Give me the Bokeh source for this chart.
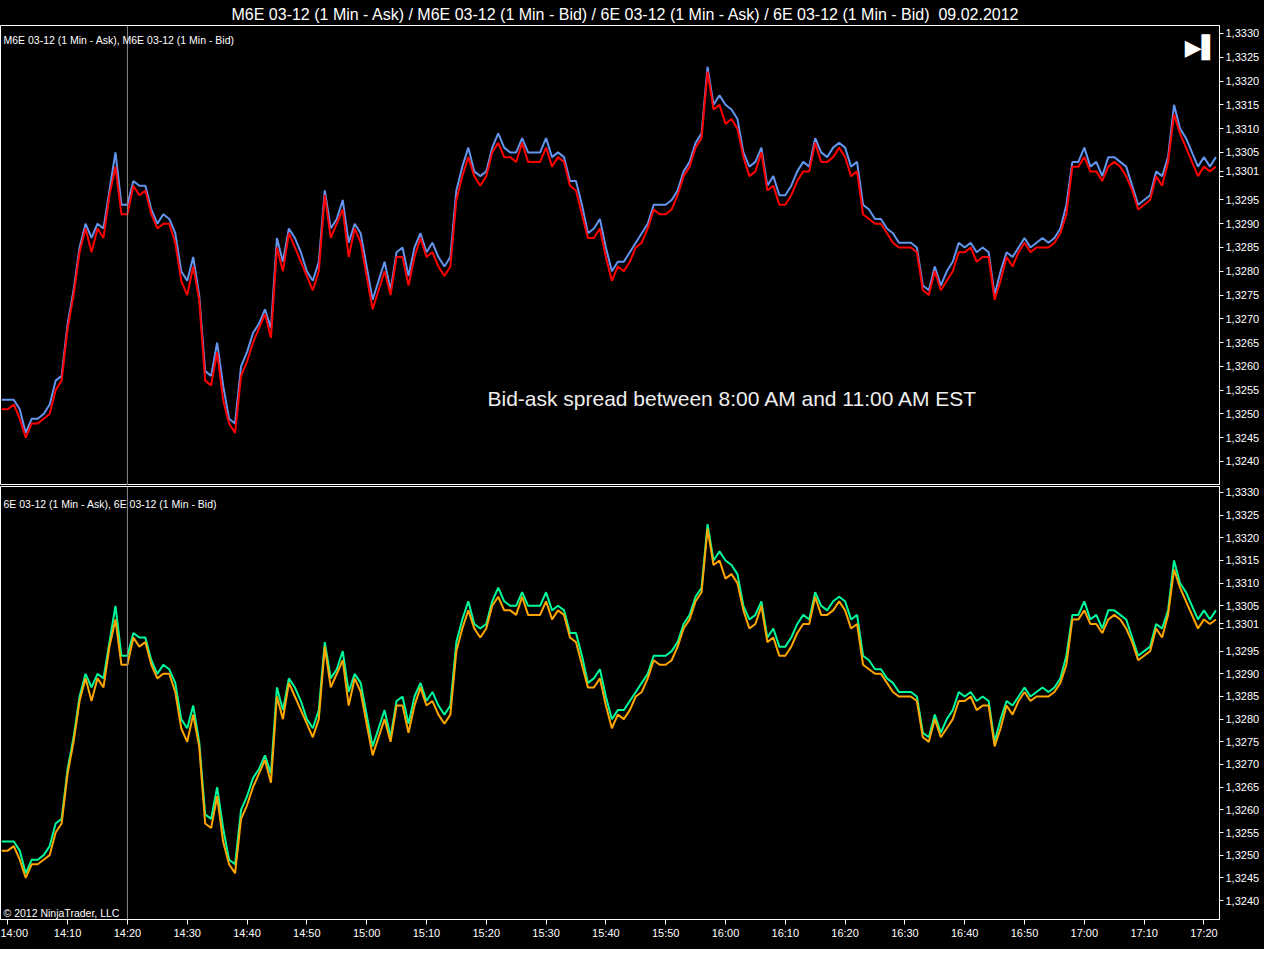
import pandas as pd
from bokeh.plotting import figure
from bokeh.layouts import column
from bokeh.models import (ColumnDataSource, Range1d, FixedTicker, CustomJSTickFormatter,
                          DatetimeTickFormatter, Span, Label)
from bokeh.embed import file_html
from bokeh.resources import INLINE

# ---------------- data ----------------
session_date = "2012-02-09"
first_minute = "13:59"
cursor_time = "14:20"
title_text = ("M6E 03-12 (1 Min - Ask) / M6E 03-12 (1 Min - Bid) / "
              "6E 03-12 (1 Min - Ask) / 6E 03-12 (1 Min - Bid)\u00a0 09.02.2012")
top_legend = "M6E 03-12 (1 Min - Ask), M6E 03-12 (1 Min - Bid)"
bottom_legend = "6E 03-12 (1 Min - Ask), 6E 03-12 (1 Min - Bid)"
note_text = "Bid-ask spread between 8:00 AM and 11:00 AM EST"
copyright_text = "\u00a9 2012 NinjaTrader, LLC"
last_price_text = "1,3301"
last_price = 1.3301
covered_tick = 1.3300   # axis label hidden behind the last-price tag

ask_m6e = [
    1.3253, 1.3253, 1.3253, 1.3251, 1.3246, 1.3249, 1.3249, 1.3250, 1.3252, 1.3257,
    1.3258, 1.3269, 1.3276, 1.3285, 1.3290, 1.3287, 1.3290, 1.3289, 1.3297, 1.3305,
    1.3294, 1.3294, 1.3299, 1.3298, 1.3298, 1.3293, 1.3290, 1.3292, 1.3291, 1.3288,
    1.3280, 1.3278, 1.3283, 1.3275, 1.3259, 1.3258, 1.3265, 1.3256, 1.3249, 1.3248,
    1.3260, 1.3263, 1.3267, 1.3269, 1.3272, 1.3268, 1.3287, 1.3282, 1.3289, 1.3287,
    1.3284, 1.3280, 1.3278, 1.3282, 1.3297, 1.3289, 1.3291, 1.3295, 1.3286, 1.3290,
    1.3288, 1.3281, 1.3274, 1.3278, 1.3282, 1.3276, 1.3284, 1.3285, 1.3279, 1.3285,
    1.3288, 1.3284, 1.3286, 1.3283, 1.3281, 1.3283, 1.3297, 1.3302, 1.3306, 1.3301,
    1.3300, 1.3301, 1.3306, 1.3309, 1.3306, 1.3305, 1.3305, 1.3308, 1.3305, 1.3305,
    1.3305, 1.3308, 1.3304, 1.3305, 1.3304, 1.3299, 1.3299, 1.3294, 1.3288, 1.3289,
    1.3291, 1.3285, 1.3280, 1.3282, 1.3282, 1.3284, 1.3286, 1.3288, 1.3290, 1.3294,
    1.3294, 1.3294, 1.3295, 1.3297, 1.3301, 1.3303, 1.3307, 1.3309, 1.3323, 1.3315,
    1.3317, 1.3315, 1.3314, 1.3312, 1.3305, 1.3302, 1.3303, 1.3306, 1.3298, 1.3300,
    1.3296, 1.3296, 1.3298, 1.3301, 1.3303, 1.3302, 1.3308, 1.3305, 1.3304, 1.3306,
    1.3307, 1.3306, 1.3302, 1.3303, 1.3294, 1.3293, 1.3291, 1.3291, 1.3289, 1.3288,
    1.3286, 1.3286, 1.3286, 1.3285, 1.3277, 1.3276, 1.3281, 1.3277, 1.3280, 1.3282,
    1.3286, 1.3285, 1.3286, 1.3284, 1.3285, 1.3284, 1.3275, 1.3280, 1.3284, 1.3283,
    1.3285, 1.3287, 1.3285, 1.3286, 1.3287, 1.3286, 1.3287, 1.3289, 1.3294, 1.3303,
    1.3303, 1.3306, 1.3302, 1.3303, 1.3300, 1.3304, 1.3304, 1.3303, 1.3302, 1.3298,
    1.3294, 1.3295, 1.3296, 1.3301, 1.3300, 1.3304, 1.3315, 1.3310, 1.3308, 1.3305,
    1.3302, 1.3304, 1.3302, 1.3304,
]

bid_m6e = [
    1.3251, 1.3251, 1.3252, 1.3249, 1.3245, 1.3248, 1.3248, 1.3249, 1.3250, 1.3255,
    1.3257, 1.3268, 1.3275, 1.3284, 1.3289, 1.3284, 1.3289, 1.3287, 1.3296, 1.3302,
    1.3292, 1.3292, 1.3298, 1.3296, 1.3297, 1.3292, 1.3289, 1.3290, 1.3290, 1.3286,
    1.3278, 1.3275, 1.3281, 1.3274, 1.3257, 1.3256, 1.3263, 1.3253, 1.3248, 1.3246,
    1.3258, 1.3261, 1.3265, 1.3268, 1.3271, 1.3266, 1.3285, 1.3280, 1.3288, 1.3285,
    1.3282, 1.3279, 1.3276, 1.3280, 1.3296, 1.3287, 1.3290, 1.3293, 1.3283, 1.3289,
    1.3286, 1.3279, 1.3272, 1.3276, 1.3280, 1.3275, 1.3283, 1.3283, 1.3277, 1.3283,
    1.3287, 1.3283, 1.3284, 1.3281, 1.3279, 1.3281, 1.3295, 1.3300, 1.3304, 1.3300,
    1.3298, 1.3300, 1.3305, 1.3307, 1.3304, 1.3304, 1.3303, 1.3307, 1.3303, 1.3303,
    1.3303, 1.3306, 1.3302, 1.3304, 1.3303, 1.3298, 1.3297, 1.3292, 1.3287, 1.3287,
    1.3289, 1.3283, 1.3278, 1.3281, 1.3280, 1.3282, 1.3285, 1.3286, 1.3289, 1.3293,
    1.3292, 1.3292, 1.3293, 1.3296, 1.3300, 1.3302, 1.3306, 1.3308, 1.3322, 1.3314,
    1.3315, 1.3311, 1.3312, 1.3310, 1.3304, 1.3300, 1.3301, 1.3305, 1.3297, 1.3298,
    1.3294, 1.3294, 1.3296, 1.3299, 1.3301, 1.3301, 1.3307, 1.3303, 1.3303, 1.3304,
    1.3306, 1.3304, 1.3300, 1.3301, 1.3292, 1.3291, 1.3290, 1.3290, 1.3288, 1.3286,
    1.3285, 1.3285, 1.3285, 1.3284, 1.3276, 1.3275, 1.3280, 1.3276, 1.3278, 1.3280,
    1.3284, 1.3284, 1.3285, 1.3282, 1.3283, 1.3283, 1.3274, 1.3278, 1.3283, 1.3281,
    1.3284, 1.3286, 1.3284, 1.3285, 1.3285, 1.3285, 1.3286, 1.3288, 1.3292, 1.3302,
    1.3302, 1.3304, 1.3301, 1.3301, 1.3299, 1.3302, 1.3303, 1.3302, 1.3300, 1.3297,
    1.3293, 1.3294, 1.3295, 1.3300, 1.3298, 1.3303, 1.3313, 1.3309, 1.3306, 1.3303,
    1.3300, 1.3302, 1.3301, 1.3302,
]

# the lower (6E) panel traces the same quotes as the upper (M6E) panel
ask_6e = list(ask_m6e)
bid_6e = list(bid_m6e)

y_tick_values = [1.3240, 1.3245, 1.3250, 1.3255, 1.3260, 1.3265, 1.3270, 1.3275,
                 1.3280, 1.3285, 1.3290, 1.3295, 1.3300, 1.3305, 1.3310, 1.3315,
                 1.3320, 1.3325, 1.3330]
x_tick_labels = ["14:00", "14:10", "14:20", "14:30", "14:40", "14:50", "15:00",
                 "15:10", "15:20", "15:30", "15:40", "15:50", "16:00", "16:10",
                 "16:20", "16:30", "16:40", "16:50", "17:00", "17:10", "17:20"]

# ---------------- styling / layout ----------------
FONT = "Liberation Sans"
W = 1264
RIGHT = 45


def ms(ts):
    return ts.value / 1e6


t0 = pd.Timestamp(f"{session_date} {first_minute}")
times = pd.date_range(t0, periods=len(bid_m6e), freq="min")
x_start = ms(t0 - pd.Timedelta(minutes=0.22))
x_end = ms(t0 + pd.Timedelta(minutes=203.6))
xr = Range1d(start=x_start, end=x_end)
cursor_ms = ms(pd.Timestamp(f"{session_date} {cursor_time}"))
x_ticks = [ms(pd.Timestamp(f"{session_date} {lab}")) for lab in x_tick_labels]

src_top = ColumnDataSource(dict(t=times, ask=ask_m6e, bid=bid_m6e))
src_bot = ColumnDataSource(dict(t=times, ask=ask_6e, bid=bid_6e))

price_fmt = CustomJSTickFormatter(
    args=dict(last=last_price, lab=last_price_text, covered=covered_tick),
    code="""
if (Math.abs(tick - last) < 1e-7) return lab;
if (Math.abs(tick - covered) < 1e-7) return "";
return tick.toFixed(4).replace('.', ',');
""")


def style_common(p):
    p.xgrid.visible = False
    p.ygrid.visible = False
    p.yaxis.ticker = FixedTicker(ticks=y_tick_values + [last_price])
    p.yaxis.formatter = price_fmt
    p.yaxis.major_tick_in = 0
    p.yaxis.major_tick_out = 4
    p.yaxis.minor_tick_line_color = None
    p.yaxis.axis_line_color = "white"
    p.yaxis.major_tick_line_color = "white"
    p.yaxis.major_label_text_color = "white"
    p.yaxis.major_label_text_font = FONT
    p.yaxis.major_label_text_font_size = "11px"
    p.yaxis.major_label_standoff = 2
    p.add_layout(Span(location=cursor_ms, dimension="height",
                      line_color="#8a8a8a", line_width=1))


yr1 = Range1d(start=1.323495, end=1.333168)
p1 = figure(width=W, height=485, x_axis_type="datetime", x_range=xr, y_range=yr1,
            output_backend="svg", toolbar_location=None, x_axis_location=None,
            y_axis_location="right", min_border_left=0, min_border_right=RIGHT,
            min_border_top=25, min_border_bottom=0,
            background_fill_color="black", border_fill_color="black",
            outline_line_color="white", title=title_text)
p1.title.align = "left"
p1.title.vertical_align = "bottom"
p1.title.text_color = "white"
p1.title.text_font = FONT
p1.title.text_font_size = "16px"
p1.title.text_font_style = "normal"
p1.title.standoff = 6
p1.title.offset = 231
style_common(p1)
p1.line(x="t", y="ask", source=src_top, line_color="#6495ED", line_width=2)
p1.line(x="t", y="bid", source=src_top, line_color="#FF0000", line_width=2)

p1.add_layout(Label(x=x_start, y=yr1.end, x_offset=3, y_offset=-14, text=top_legend,
                    text_color="white", text_font=FONT, text_font_size="10.5px",
                    text_baseline="middle"))
p1.add_layout(Label(x=ms(t0 + pd.Timedelta(minutes=81.2)), y=1.325325, text=note_text,
                    text_color="#eeeeee", text_font=FONT, text_font_size="21px",
                    text_baseline="middle"))
p1.add_layout(Label(x=x_end, y=yr1.end, x_offset=-1, y_offset=-22, text="\u25b6\u258c",
                    text_color="white", text_font="DejaVu Sans", text_font_size="22px",
                    text_align="right", text_baseline="middle"))

yr2 = Range1d(start=1.323581, end=1.333132)
p2 = figure(width=W, height=464, x_axis_type="datetime", x_range=xr, y_range=yr2,
            output_backend="svg", toolbar_location=None,
            y_axis_location="right", min_border_left=0, min_border_right=RIGHT,
            min_border_top=1, min_border_bottom=30,
            background_fill_color="black", border_fill_color="black",
            outline_line_color="white")
style_common(p2)
p2.xaxis.ticker = FixedTicker(ticks=x_ticks)
p2.xaxis.formatter = DatetimeTickFormatter(minsec="%H:%M", minutes="%H:%M",
                                           hourmin="%H:%M", hours="%H:%M")
p2.xaxis.major_tick_in = 0
p2.xaxis.major_tick_out = 5
p2.xaxis.minor_tick_line_color = None
p2.xaxis.axis_line_color = "white"
p2.xaxis.major_tick_line_color = "white"
p2.xaxis.major_label_text_color = "white"
p2.xaxis.major_label_text_font = FONT
p2.xaxis.major_label_text_font_size = "11px"
p2.xaxis.major_label_standoff = 2
p2.line(x="t", y="ask", source=src_bot, line_color="#00FA9A", line_width=2)
p2.line(x="t", y="bid", source=src_bot, line_color="#FFA500", line_width=2)

p2.add_layout(Label(x=x_start, y=yr2.end, x_offset=3, y_offset=-17, text=bottom_legend,
                    text_color="white", text_font=FONT, text_font_size="10.5px",
                    text_baseline="middle"))
p2.add_layout(Label(x=x_start, y=yr2.start, x_offset=3, y_offset=7, text=copyright_text,
                    text_color="white", text_font=FONT, text_font_size="10.5px",
                    text_baseline="middle"))

layout = column(p1, p2, spacing=0, styles={"background-color": "black"})

open("out.html", "w").write(file_html(layout, INLINE))
